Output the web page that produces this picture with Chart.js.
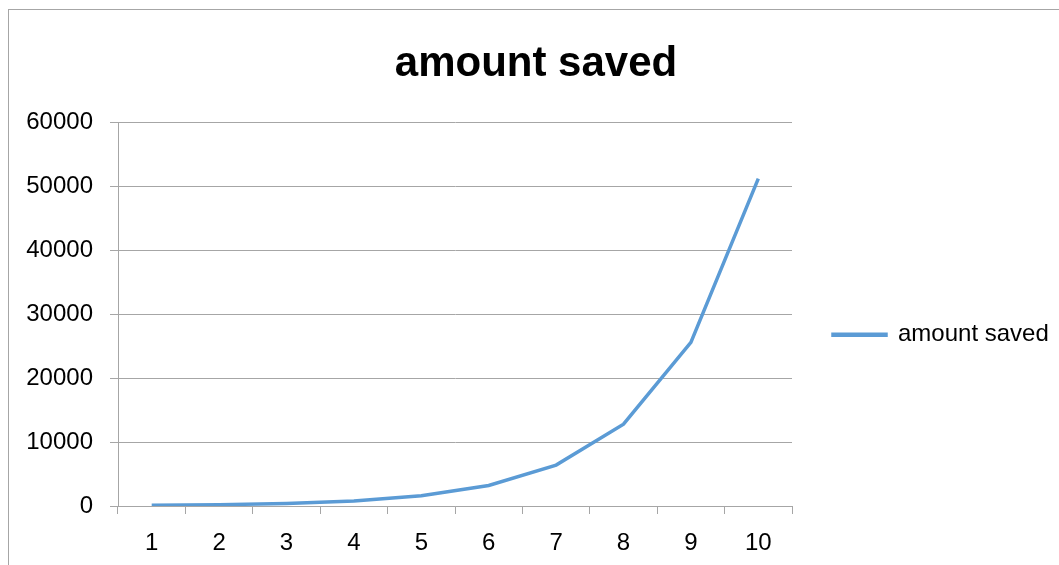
<!DOCTYPE html>
<html>
<head>
<meta charset="utf-8">
<script src="https://cdn.jsdelivr.net/npm/chart.js@4/dist/chart.umd.min.js"></script>
<style>
  html, body { margin: 0; padding: 0; background: #fff; overflow: hidden; }
  #frame { position: absolute; left: 8px; top: 9px; width: 1100px; height: 600px; border: 1px solid #a6a6a6; }
  #wrap { position: absolute; left: 0; top: 0; width: 1059px; height: 565px; }
</style>
</head>
<body>
<div id="frame"></div>
<div id="wrap"><canvas id="chartSaved"></canvas></div>
<script>
// dados do gráfico
var categorias = ['1', '2', '3', '4', '5', '6', '7', '8', '9', '10'];
var valoresSalvos = [100, 200, 400, 800, 1600, 3200, 6400, 12800, 25600, 51200];
var nomeSerie = 'amount saved';
var tituloGrafico = 'amount saved';

var fonte = "'Liberation Sans', Arial, sans-serif";
var corLinha = '#5b9bd5';
var corGrade = '#a6a6a6';

var ctx = document.getElementById('chartSaved').getContext('2d');
var myChart = new Chart(ctx, {
    type: 'line',
    data: {
        labels: categorias,
        datasets: [{
            label: nomeSerie,
            data: valoresSalvos,
            borderColor: corLinha,
            backgroundColor: corLinha,
            borderWidth: 3.5,
            pointRadius: 0,
            tension: 0,
            fill: false
        }]
    },
    options: {
        responsive: true,
        maintainAspectRatio: false,
        animation: false,
        layout: { padding: { left: 24, right: 11, top: 0, bottom: 0 } },
        plugins: {
            title: {
                display: true,
                text: tituloGrafico,
                color: '#000',
                font: { family: fonte, size: 42, weight: 'bold' },
                padding: { top: 39, bottom: 33 }
            },
            legend: {
                position: 'right',
                // título vazio só p/ empurrar o item p/ baixo
                title: { display: true, text: ' ', padding: { top: 66, bottom: 0 }, font: { size: 32 } },
                labels: {
                    color: '#000',
                    font: { family: fonte, size: 24 },
                    boxWidth: 53,
                    boxHeight: 1,
                    padding: 41
                }
            },
            tooltip: { enabled: false }
        },
        scales: {
            x: {
                offset: true,
                grid: {
                    offset: true,
                    drawOnChartArea: false,
                    color: corGrade,
                    tickLength: 8
                },
                border: { color: corGrade },
                ticks: {
                    color: '#000',
                    font: { family: fonte, size: 24 },
                    padding: 15,
                    maxRotation: 0
                },
                afterFit: function (scale) { scale.height = 59; }
            },
            y: {
                min: 0,
                max: 60000,
                grid: { color: corGrade, tickLength: 8 },
                border: { color: corGrade },
                ticks: {
                    stepSize: 10000,
                    color: '#000',
                    font: { family: fonte, size: 24 },
                    padding: 17,
                    callback: function (v) { return String(v); }
                },
                afterFit: function (scale) { scale.width = 94; }
            }
        }
    }
});
</script>
</body>
</html>
